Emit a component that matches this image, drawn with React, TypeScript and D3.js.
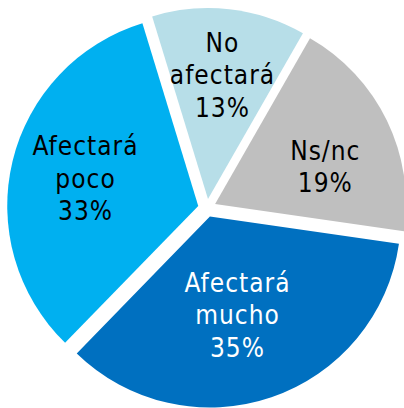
import React from "react";
import * as d3 from "d3";

const categories = ["No afectará", "Ns/nc", "Afectará mucho", "Afectará poco"];
const labelLines = [["No", "afectará"], ["Ns/nc"], ["Afectará", "mucho"], ["Afectará", "poco"]];
const values = [13, 19, 35, 33];
const colors = ["#B7DEE8", "#BFBFBF", "#0070C0", "#00B0F0"];
const textColors = ["#000000", "#000000", "#FFFFFF", "#000000"];
const labelRadius = [125, 116, 102, 116.5];
const labelAngleShift = [0, 7.1, 3.4, 0];

const W = 404;
const H = 408;
const CX = 207;
const CY = 208;
const R = 191;
const EXPLODE = 9;
const FONT = 26;
const LINE = 32.5;

export default function App() {
  const pie = d3
    .pie<number>()
    .sort(null)
    .startAngle((-17 * Math.PI) / 180)
    .endAngle((343 * Math.PI) / 180);
  const arcs = pie(values);
  const arcGen = d3.arc<d3.PieArcDatum<number>>().innerRadius(0).outerRadius(R);

  return (
    <div style={{ position: "fixed", left: 0, top: 0 }}>
      <svg width={W} height={H} style={{ display: "block" }}>
        <rect width={W} height={H} fill="#ffffff" />
        <g transform={`translate(${CX},${CY})`}>
          {arcs.map((a, i) => {
            const mid = (a.startAngle + a.endAngle) / 2;
            const ox = EXPLODE * Math.sin(mid);
            const oy = -EXPLODE * Math.cos(mid);
            const la = mid + (labelAngleShift[i] * Math.PI) / 180;
            const lr = labelRadius[i];
            const lx = ox + lr * Math.sin(la);
            const ly = oy - lr * Math.cos(la);
            const lines = [...labelLines[i], `${values[i]}%`];
            const n = lines.length;
            return (
              <g key={categories[i]}>
                <path d={arcGen(a) || ""} transform={`translate(${ox},${oy})`} fill={colors[i]} />
                <text
                  fontFamily="'DejaVu Sans Condensed', 'DejaVu Sans', sans-serif"
                  fontStretch="condensed"
                  fontSize={FONT}
                  letterSpacing={1}
                  fill={textColors[i]}
                  textAnchor="middle"
                >
                  {lines.map((t, j) => (
                    <tspan key={j} x={lx + 0.5} y={ly + (j - (n - 1) / 2) * LINE + FONT * 0.36}>
                      {t}
                    </tspan>
                  ))}
                </text>
              </g>
            );
          })}
        </g>
      </svg>
    </div>
  );
}
